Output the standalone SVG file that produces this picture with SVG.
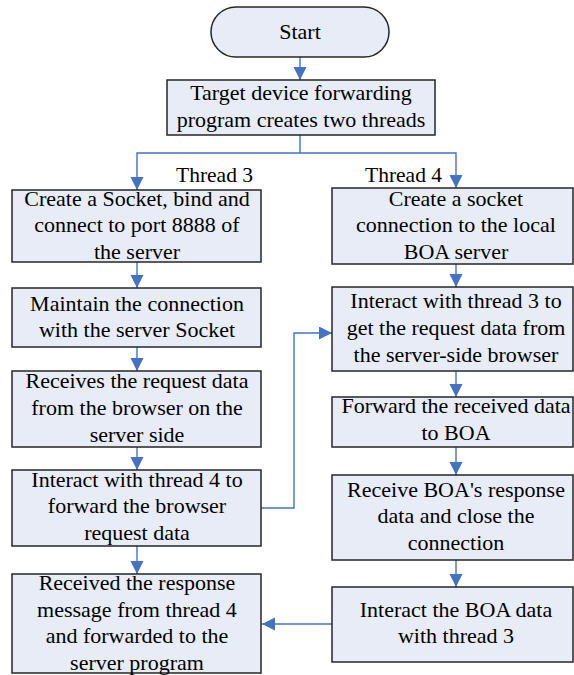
<svg xmlns="http://www.w3.org/2000/svg" width="574" height="675" viewBox="0 0 574 675">
  <style>
    .box { fill: #E7ECF6; stroke: #262626; stroke-width: 1.5; }
    text { font-family: "Liberation Serif", "Times New Roman", "DejaVu Serif", serif; fill: #000; }
    .txt { font-size: 22px; text-anchor: middle; }
    .lbl { font-size: 21.5px; }
    .conn { fill: none; stroke: #4472C4; stroke-width: 1.4; }
  </style>
  <defs>
    <marker id="arrow" markerUnits="userSpaceOnUse" markerWidth="14" markerHeight="14" refX="13" refY="6.5" orient="auto">
      <path d="M0,0 L13,6.5 L0,13 Z" fill="#4472C4"/>
    </marker>
  </defs>
  <rect width="574" height="675" fill="#ffffff"/>

  <g id="connectors">
    <line class="conn" x1="300" y1="57" x2="300" y2="80" marker-end="url(#arrow)"/>
    <polyline class="conn" points="300,135 300,153 137,153 137,190" marker-end="url(#arrow)"/>
    <polyline class="conn" points="300,153 456,153 456,188" marker-end="url(#arrow)"/>
    <line class="conn" x1="137" y1="262" x2="137" y2="288" marker-end="url(#arrow)"/>
    <line class="conn" x1="137" y1="347" x2="137" y2="371" marker-end="url(#arrow)"/>
    <line class="conn" x1="137" y1="447" x2="137" y2="470" marker-end="url(#arrow)"/>
    <line class="conn" x1="137" y1="546" x2="137" y2="574" marker-end="url(#arrow)"/>
    <line class="conn" x1="456" y1="264" x2="456" y2="287" marker-end="url(#arrow)"/>
    <line class="conn" x1="456" y1="371" x2="456" y2="397" marker-end="url(#arrow)"/>
    <line class="conn" x1="456" y1="447" x2="456" y2="475" marker-end="url(#arrow)"/>
    <line class="conn" x1="456" y1="560" x2="456" y2="587" marker-end="url(#arrow)"/>
    <polyline class="conn" points="261,508 294,508 294,333 332,333" marker-end="url(#arrow)"/>
    <line class="conn" x1="332" y1="624" x2="262" y2="624" marker-end="url(#arrow)"/>
  </g>

  <text class="lbl" x="176" y="182">Thread 3</text>
  <text class="lbl" x="365" y="182">Thread 4</text>

  <g id="start">
    <rect class="box" x="211" y="7" width="178" height="50" rx="25" ry="25"/>
    <text class="txt" x="300" y="39">Start</text>
  </g>

  <g id="create-threads">
    <rect class="box" x="167" y="80" width="268" height="55"/>
    <text class="txt" x="301" y="100">Target device forwarding</text>
    <text class="txt" x="301" y="127">program creates two threads</text>
  </g>

  <g id="t3-create-socket">
    <rect class="box" x="12" y="190" width="249" height="72"/>
    <text class="txt" x="137" y="206">Create a Socket, bind and</text>
    <text class="txt" x="137" y="232">connect to port 8888 of</text>
    <text class="txt" x="137" y="259">the server</text>
  </g>

  <g id="t3-maintain">
    <rect class="box" x="12" y="288" width="249" height="59"/>
    <text class="txt" x="137" y="311">Maintain the connection</text>
    <text class="txt" x="137" y="337">with the server Socket</text>
  </g>

  <g id="t3-receive-request">
    <rect class="box" x="12" y="371" width="249" height="76"/>
    <text class="txt" x="137" y="388">Receives the request data</text>
    <text class="txt" x="137" y="415">from the browser on the</text>
    <text class="txt" x="137" y="442">server side</text>
  </g>

  <g id="t3-forward-request">
    <rect class="box" x="12" y="470" width="249" height="76"/>
    <text class="txt" x="137" y="487">Interact with thread 4 to</text>
    <text class="txt" x="137" y="513">forward the browser</text>
    <text class="txt" x="137" y="540">request data</text>
  </g>

  <g id="t3-receive-response">
    <rect class="box" x="12" y="574" width="249" height="99"/>
    <text class="txt" x="137" y="590">Received the response</text>
    <text class="txt" x="137" y="617">message from thread 4</text>
    <text class="txt" x="137" y="643">and forwarded to the</text>
    <text class="txt" x="137" y="670">server program</text>
  </g>

  <g id="t4-create-socket">
    <rect class="box" x="332" y="188" width="241" height="76"/>
    <text class="txt" x="456" y="206">Create a socket</text>
    <text class="txt" x="456" y="232">connection to the local</text>
    <text class="txt" x="456" y="259">BOA server</text>
  </g>

  <g id="t4-get-request">
    <rect class="box" x="332" y="287" width="241" height="84"/>
    <text class="txt" x="456" y="308">Interact with thread 3 to</text>
    <text class="txt" x="456" y="335">get the request data from</text>
    <text class="txt" x="456" y="362">the server-side browser</text>
  </g>

  <g id="t4-forward-boa">
    <rect class="box" x="332" y="397" width="241" height="50"/>
    <text class="txt" x="456" y="413">Forward the received data</text>
    <text class="txt" x="456" y="440">to BOA</text>
  </g>

  <g id="t4-receive-boa">
    <rect class="box" x="332" y="475" width="241" height="85"/>
    <text class="txt" x="456" y="497">Receive BOA's response</text>
    <text class="txt" x="456" y="523">data and close the</text>
    <text class="txt" x="456" y="550">connection</text>
  </g>

  <g id="t4-return-data">
    <rect class="box" x="332" y="587" width="241" height="75"/>
    <text class="txt" x="456" y="617">Interact the BOA data</text>
    <text class="txt" x="456" y="643">with thread 3</text>
  </g>
</svg>
